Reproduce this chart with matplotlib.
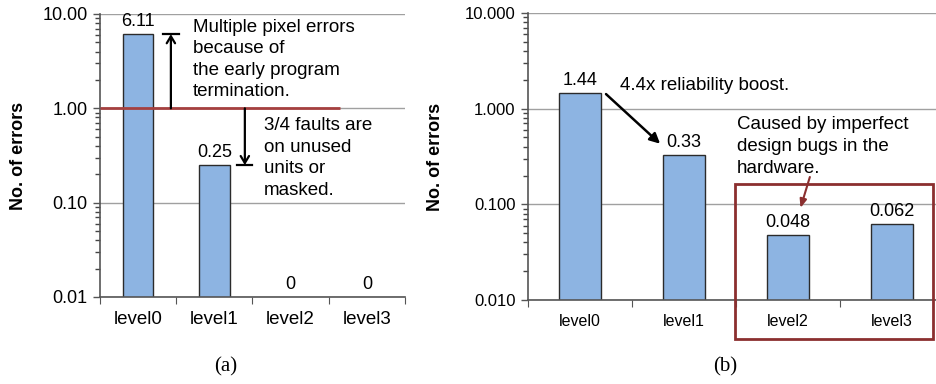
import matplotlib
matplotlib.use("Agg")
import matplotlib.pyplot as plt
from matplotlib.ticker import FixedLocator, NullFormatter, FuncFormatter
from matplotlib.transforms import blended_transform_factory
from matplotlib.patches import Rectangle

# --- data
levels = ["level0", "level1", "level2", "level3"]
errors_a = [6.11, 0.25, 0, 0]
labels_a = ["6.11", "0.25", "0", "0"]
errors_b = [1.44, 0.33, 0.048, 0.062]
labels_b = ["1.44", "0.33", "0.048", "0.062"]

plt.rcParams["font.family"] = ["Liberation Sans", "DejaVu Sans"]

BAR = "#8DB4E2"
EDGE = "#2b2b2b"
AXC = "#555555"
RED = "#A5403F"
DARKRED = "#8B2F2F"

fig = plt.figure(figsize=(9.37, 3.84), dpi=100)
ax_a = fig.add_axes([0.1067, 0.2266, 0.3255, 0.7370])
ax_b = fig.add_axes([0.5635, 0.2188, 0.4440, 0.7474])

decades = [0.01, 0.1, 1.0, 10.0]
minors = [d * k for d in decades[:-1] for k in range(2, 10)]


def style_axis(ax, fmt, ytick_size, xtick_size, label_x):
    ax.set_yscale("log")
    ax.set_ylim(0.01, 10)
    ax.set_xlim(-0.5, len(levels) - 0.5)
    ax.yaxis.set_major_locator(FixedLocator(decades))
    ax.yaxis.set_minor_locator(FixedLocator(minors))
    ax.yaxis.set_minor_formatter(NullFormatter())
    ax.yaxis.set_major_formatter(FuncFormatter(lambda v, p: fmt.format(v)))
    ax.grid(axis="y", which="major", color="#A0A0A0", lw=1)
    ax.set_axisbelow(True)
    for s in ["top", "right"]:
        ax.spines[s].set_visible(False)
    for s in ["left", "bottom"]:
        ax.spines[s].set_color(AXC)
        ax.spines[s].set_linewidth(1.2)
    ax.tick_params(axis="y", which="major", length=5, width=1, color=AXC, labelsize=ytick_size, pad=4)
    ax.tick_params(axis="y", which="minor", length=3.5, width=1, color="#444444")
    # category ticks sit on the boundaries, names in between
    ax.xaxis.set_major_locator(FixedLocator([i - 0.5 for i in range(len(levels) + 1)]))
    ax.xaxis.set_major_formatter(NullFormatter())
    ax.xaxis.set_minor_locator(FixedLocator(range(len(levels))))
    ax.set_xticklabels(levels, minor=True)
    ax.tick_params(axis="x", which="major", length=5, color=AXC)
    ax.tick_params(axis="x", which="minor", length=0, labelsize=xtick_size, pad=10)
    ax.set_ylabel("No. of errors", fontsize=13, fontweight="bold")
    ax.yaxis.set_label_coords(label_x, 0.5)


def draw_bars(ax, vals, labels):
    xs = [i for i, v in enumerate(vals) if v > 0]
    hs = [v for v in vals if v > 0]
    ax.bar(xs, hs, width=0.4, color=BAR, edgecolor=EDGE, lw=1, zorder=2)
    lo = ax.get_ylim()[0]
    for i, (v, t) in enumerate(zip(vals, labels)):
        ax.annotate(t, (i, v if v > 0 else lo), xytext=(0, 3), textcoords="offset points",
                    ha="center", va="bottom", fontsize=13)


# ---------------- (a)
style_axis(ax_a, "{:.2f}", 13, 13.5, -0.239)
draw_bars(ax_a, errors_a, labels_a)

ax_a.plot([-0.5, 2.65], [1.0, 1.0], color=RED, lw=2, zorder=3, solid_capstyle="butt")
# up arrow: level0 is above 1
ax_a.annotate("", xy=(0.43, errors_a[0]), xytext=(0.43, 1.0),
              arrowprops=dict(arrowstyle="->,head_length=0.5,head_width=0.3", color="black", lw=1.6,
                              shrinkA=0, shrinkB=0))
ax_a.plot([0.33, 0.53], [errors_a[0], errors_a[0]], color="black", lw=1.6)
# down arrow: level1 is below 1
ax_a.annotate("", xy=(1.40, errors_a[1]), xytext=(1.40, 1.0),
              arrowprops=dict(arrowstyle="->,head_length=0.5,head_width=0.3", color="black", lw=1.6,
                              shrinkA=0, shrinkB=0))
ax_a.plot([1.30, 1.50], [errors_a[1], errors_a[1]], color="black", lw=1.6)

ax_a.text(0.72, 8.9, "Multiple pixel errors\nbecause of\nthe early program\ntermination.",
          fontsize=13.5, va="top", ha="left", linespacing=1.34)
ax_a.text(1.65, 0.8, "3/4 faults are\non unused\nunits or\nmasked.",
          fontsize=13.5, va="top", ha="left", linespacing=1.34)

# ---------------- (b)
style_axis(ax_b, "{:.3f}", 12, 11.5, -0.202)
draw_bars(ax_b, errors_b, labels_b)

ax_b.text(0.385, 1.73, "4.4x reliability boost.", fontsize=13.5, va="center", ha="left")
ax_b.annotate("", xy=(0.77, 0.43), xytext=(0.25, 1.42),
              arrowprops=dict(arrowstyle="-|>,head_length=0.6,head_width=0.3", color="black", lw=1.8,
                              shrinkA=0, shrinkB=0))
ax_b.text(1.51, 0.83, "Caused by imperfect\ndesign bugs in the\nhardware.",
          fontsize=13.5, va="top", ha="left", linespacing=1.38)
ax_b.annotate("", xy=(2.12, 0.0917), xytext=(2.21, 0.193),
              arrowprops=dict(arrowstyle="-|>,head_length=0.5,head_width=0.2", color=DARKRED, lw=1.5,
                              shrinkA=0, shrinkB=0))
trans = blended_transform_factory(ax_b.transData, ax_b.transAxes)
ax_b.add_patch(Rectangle((1.49, -0.136), 1.90, 0.54, transform=trans, fill=False,
                         edgecolor=DARKRED, lw=2, clip_on=False, zorder=4))

fig.text(226 / 937, 1 - 367 / 384, "(a)", family=["Liberation Serif", "DejaVu Serif"],
         fontsize=15, ha="center", va="center")
fig.text(725 / 937, 1 - 367 / 384, "(b)", family=["Liberation Serif", "DejaVu Serif"],
         fontsize=15, ha="center", va="center")

fig.savefig("out.png", dpi=100)
